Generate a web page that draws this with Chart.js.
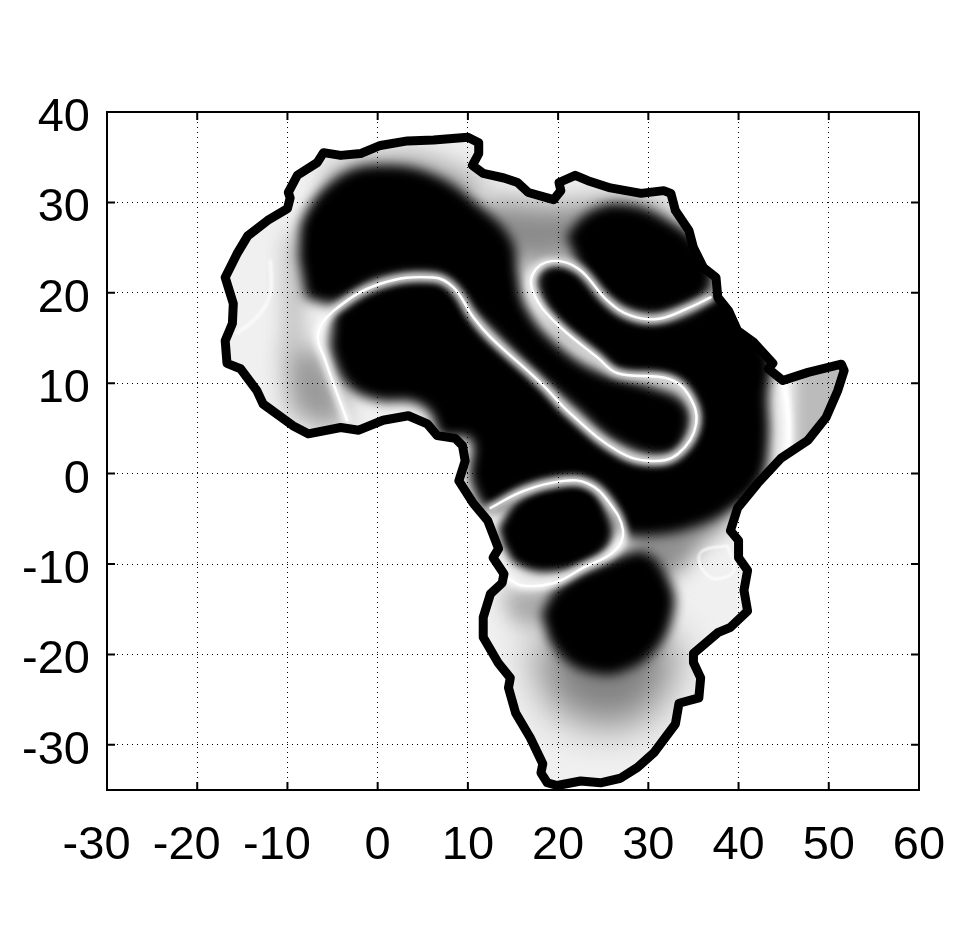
<!DOCTYPE html>
<html>
<head>
<meta charset="utf-8">
<title>Africa field map</title>
<script src="https://cdn.jsdelivr.net/npm/chart.js@4/dist/chart.umd.min.js"></script>
<style>
  html, body { margin: 0; padding: 0; background: #fff; }
  canvas { display: block; }
</style>
</head>
<body>
<canvas id="mapChart" width="957" height="952"></canvas>
<script>
// Axis ticks
const xTicks = [-30, -20, -10, 0, 10, 20, 30, 40, 50, 60];
const yTicks = [40, 30, 20, 10, 0, -10, -20, -30];

// Coastline, clockwise from the north tip [lon, lat]
const coast = [[11.2,36.6],[11.2,35.4],[10.5,34.1],[11.7,33.2],[14.0,32.7],[15.5,32.2],[16.7,31.1],[19.5,30.3],[20.3,31.3],[20.1,32.2],
  [21.9,33.0],[23.3,32.4],[25.8,31.6],[29.2,31.0],[31.7,31.3],[32.5,31.0],[33.0,29.1],[34.5,26.9],[35.0,25.0],[36.1,22.8],
  [37.5,21.7],[37.7,19.5],[38.9,18.0],[39.9,15.8],[41.7,14.5],[43.8,12.2],[43.3,11.6],[44.9,10.3],[47.7,11.2],[51.4,12.1],
  [51.7,11.4],[51.0,9.2],[49.7,6.2],[47.7,3.7],[44.7,1.7],[42.1,-1.1],[39.9,-3.8],[39.1,-6.3],[40.0,-7.4],[40.0,-9.3],
  [41.0,-10.7],[40.6,-12.9],[41.0,-15.2],[39.1,-17.0],[37.7,-17.6],[35.0,-19.9],[35.0,-20.9],[35.8,-22.6],[35.6,-24.8],[33.4,-25.4],
  [33.0,-27.7],[30.6,-30.9],[28.8,-32.5],[26.9,-33.7],[24.7,-34.2],[22.5,-34.0],[19.9,-34.5],[18.8,-34.2],[18.1,-33.1],[18.3,-32.1],
  [16.9,-29.2],[15.3,-26.5],[14.5,-23.7],[14.7,-22.6],[13.4,-21.0],[11.7,-18.1],[11.7,-15.9],[12.5,-13.3],[13.8,-12.1],[14.0,-11.1],
  [12.8,-9.3],[13.4,-8.3],[12.2,-5.2],[10.6,-3.3],[9.0,-0.8],[9.7,1.4],[9.4,3.1],[8.6,3.9],[6.6,4.2],[5.5,5.5],
  [3.4,6.4],[0.6,5.9],[-2.1,4.8],[-4.1,5.1],[-7.7,4.4],[-9.4,5.3],[-12.7,7.7],[-13.4,9.2],[-15.2,11.6],[-16.7,12.2],
  [-16.9,14.7],[-16.1,16.6],[-16.0,18.8],[-16.9,21.7],[-15.6,24.3],[-14.4,26.3],[-12.2,28.0],[-10.0,29.3],[-9.7,30.5],[-9.9,31.1],
  [-8.9,33.0],[-6.7,34.4],[-6.0,35.5],[-4.1,35.2],[-1.9,35.4],[0.3,36.3],[3.3,36.8],[6.2,36.9],[10.0,37.2],[11.2,36.6]];

// White ridges of the field
const ridgeMain = [[-3.4,5.9],[-5.8,12.5],[-6.6,15.5],[-4.9,18.0],[0.3,21.0],[6.2,21.7],[8.4,20.6],[10.6,17.3],[12.5,15.1],[18.1,10.0],
  [21.4,6.6],[26.6,2.5],[30.3,1.4],[33.3,2.2],[35.3,5.5],[34.4,8.8],[32.2,10.5],[26.6,11.1],[24.4,12.8],[19.5,16.9],
  [17.3,19.9],[17.2,22.1],[19.2,23.5],[22.2,22.7],[25.5,19.1],[28.0,17.5],[31.0,17.1],[34.4,18.3],[36.9,19.5]];
const ridgeSouth = [[12.5,-3.8],[16.2,-1.9],[20.6,-0.8],[23.3,-1.1],[25.5,-3.0],[27.2,-6.3],[26.2,-8.6],[22.8,-10.4],[19.5,-12.1],[16.2,-12.4],[14.4,-11.6]];
const ridgeHorn = [[45.0,10.5],[45.5,6.2],[45.5,2.3]];
const ridgeWest = [[-11.9,23.6],[-11.9,19.9],[-13.4,17.3],[-15.6,15.5]];
const ridgeLoop = [[38.8,-8.0],[36.1,-8.5],[35.6,-9.6],[36.6,-11.3],[38.0,-11.6],[39.5,-10.7],[38.8,-8.0]];

// Black blobs
const blobNorth = [[-8.8,24.1],[-8.2,28.5],[-4.1,33.0],[0.8,34.1],[6.4,33.0],[11.4,29.6],[14.9,25.8],[15.6,21.9],[16.4,18.6],[19.5,14.7],
  [24.4,11.4],[30.3,9.7],[33.9,8.1],[34.7,5.3],[32.5,2.0],[26.9,3.1],[21.4,7.5],[16.4,11.9],[12.5,15.8],[10.3,18.0],
  [8.1,20.8],[5.8,21.9],[0.3,21.3],[-4.7,18.8],[-8.0,19.4]];
const blobCentral = [[-5.2,15.3],[-5.2,13.6],[-3.3,9.7],[0.1,8.1],[3.9,7.9],[5.8,6.7],[7.0,4.2],[10.3,3.7],[10.3,-0.8],[12.5,-4.1],
  [16.2,-1.9],[20.6,-0.8],[23.3,-1.1],[25.5,-3.0],[27.2,-6.5],[30.3,-6.9],[34.7,-6.1],[39.1,-4.1],[42.5,-0.8],[43.4,3.7],
  [43.3,8.6],[43.6,13.0],[41.0,17.0],[38.6,20.2],[34.4,18.0],[31.0,17.1],[28.0,17.5],[25.5,19.1],[22.2,22.7],[19.2,23.3],[17.5,21.3],
  [19.5,16.9],[24.4,12.8],[26.6,11.1],[32.2,10.5],[34.4,8.8],[35.3,5.5],[33.3,2.2],[30.3,1.4],[26.6,2.5],[21.4,6.6],
  [18.1,10.0],[12.5,15.1],[10.6,17.3],[8.4,20.6],[6.2,21.7],[0.3,21.0],[-4.9,18.0]];
const blobNorthEast = [[20.9,26.3],[23.4,28.9],[26.9,29.8],[31.4,28.5],[36.0,25.0],[37.0,20.6],[32.7,17.8],[29.2,17.5],[25.5,19.1],[22.2,23.0]];
const blobCongo = [[13.4,-6.0],[15.6,-2.9],[19.9,-1.3],[23.5,-1.5],[25.5,-4.4],[25.9,-7.3],[23.5,-9.7],[18.8,-10.9],[15.4,-10.0],[13.9,-7.9]];
const blobZambia = [[18.1,-15.5],[20.1,-12.4],[25.5,-9.6],[29.7,-8.7],[32.5,-12.2],[32.8,-15.4],[30.8,-19.6],[26.9,-22.0],[23.6,-22.0],[20.8,-20.7],[19.0,-18.5]];

// Soft gray patches
const hazeSahara = [[12.5,30.2],[20.3,29.6],[28.9,30.2],[33.3,27.4],[28.9,26.9],[20.3,23.5],[14.8,23.5],[10.3,28.5]];
const hazeMaghreb = [[-6.0,33.5],[0.0,35.3],[6.0,35.0],[12.0,31.5],[5.0,30.0],[-5.0,30.0]];
const hazeGuinea = [[-10.3,13.6],[-6.4,13.6],[-3.6,5.9],[-6.4,5.3],[-9.7,7.0]];
const hazeAtlas = [[-10.3,25.8],[-8.6,26.9],[-8.6,13.6],[-10.3,13.6]];
const hazeKalahari = [[16.9,-18.5],[32.5,-18.5],[30.3,-26.2],[24.7,-27.9],[19.2,-25.7]];
const hazeRift = [[26.9,-6.3],[39.7,-4.3],[35.8,-8.0],[32.7,-11.3],[29.2,-10.2]];
const hazeAngola = [[13.6,-12.9],[20.3,-12.9],[18.1,-16.8],[14.8,-16.3]];
const hazeHorn = [[46.3,11.4],[52.4,12.5],[50.2,4.8],[46.3,1.4]];

function toPoints(list) {
    return list.map(function (p) { return { x: p[0], y: p[1] }; });
}

function patch(list, color, blur) {
    return { data: toPoints(list), showLine: true, pointRadius: 0, borderWidth: 0, tension: 0.4,
        fieldLayer: true, layerFill: color, layerBlur: blur };
}

function ridge(list, width, blur) {
    return { data: toPoints(list), showLine: true, pointRadius: 0, borderColor: '#fff', borderWidth: width,
        tension: 0.4, borderCapStyle: 'round', borderJoinStyle: 'round', fieldLayer: true, layerBlur: blur };
}

// Chart.js paints the first dataset last, so the list runs from top to bottom
const datasets = [
    { data: toPoints(coast), showLine: true, pointRadius: 0, borderColor: '#000', borderWidth: 9,
      tension: 0, borderCapStyle: 'round', borderJoinStyle: 'round' },
    ridge(ridgeMain, 2.4, 0.6), ridge(ridgeSouth, 2.4, 0.6), ridge(ridgeHorn, 2.5, 0.8),
    ridge(ridgeMain, 7, 3.5), ridge(ridgeSouth, 7, 3.5), ridge(ridgeHorn, 7, 2.5),
    ridge(ridgeWest, 2.5, 1.5), ridge(ridgeLoop, 2, 1),
    patch(blobNorth, '#000', 6), patch(blobCentral, '#000', 6), patch(blobNorthEast, '#000', 6),
    patch(blobCongo, '#000', 4), patch(blobZambia, '#000', 6),
    patch(hazeSahara, '#8a8a8a', 14), patch(hazeMaghreb, '#aaa', 12), patch(hazeGuinea, '#999', 12), patch(hazeAtlas, '#bbb', 10),
    patch(hazeKalahari, '#808080', 20), patch(hazeRift, '#909090', 10), patch(hazeAngola, '#aaa', 10),
    patch(hazeHorn, '#bbb', 6),
    patch(coast, '#f0f0f0', 0)
];
datasets[datasets.length - 1].tension = 0;

// Clip field layers to the coast and blur them
const fieldLayers = {
    id: 'fieldLayers',
    beforeDatasetDraw(chart, args) {
        const ds = chart.data.datasets[args.index];
        if (!ds.fieldLayer) return;
        const ctx = chart.ctx;
        ctx.save();
        ctx.beginPath();
        chart.getDatasetMeta(0).dataset.path(ctx);
        ctx.closePath();
        ctx.clip();
        if (ds.layerBlur) ctx.filter = 'blur(' + ds.layerBlur + 'px)';
        if (ds.layerFill) {
            ctx.fillStyle = ds.layerFill;
            ctx.beginPath();
            args.meta.dataset.path(ctx);
            ctx.closePath();
            ctx.fill();
            ctx.restore();
            return false;
        }
    },
    afterDatasetDraw(chart, args) {
        if (chart.data.datasets[args.index].fieldLayer) chart.ctx.restore();
    }
};

// Box round the plot with short inward ticks on all four sides
const plotFrame = {
    id: 'plotFrame',
    afterDraw(chart) {
        const ctx = chart.ctx;
        const a = chart.chartArea;
        ctx.save();
        ctx.strokeStyle = '#000';
        ctx.lineWidth = 2;
        ctx.strokeRect(a.left, a.top, a.right - a.left, a.bottom - a.top);
        ctx.beginPath();
        xTicks.forEach(function (v) {
            const px = chart.scales.x.getPixelForValue(v);
            ctx.moveTo(px, a.top); ctx.lineTo(px, a.top + 8);
            ctx.moveTo(px, a.bottom); ctx.lineTo(px, a.bottom - 8);
        });
        yTicks.forEach(function (v) {
            const py = chart.scales.y.getPixelForValue(v);
            ctx.moveTo(a.left, py); ctx.lineTo(a.left + 8, py);
            ctx.moveTo(a.right, py); ctx.lineTo(a.right - 8, py);
        });
        ctx.stroke();
        ctx.restore();
    }
};

function axisOptions(min, max, values, size, tickOpts) {
    return {
        type: 'linear',
        min: min,
        max: max,
        afterBuildTicks: function (scale) { scale.ticks = values.map(function (v) { return { value: v }; }); },
        grid: { color: '#000', lineWidth: 1, z: 1, drawTicks: false },
        border: { display: false, dash: [1, 4] },
        ticks: Object.assign({ color: '#000', autoSkip: false, maxRotation: 0,
            font: { family: '"Liberation Sans", Arial, sans-serif', size: 47 } }, tickOpts),
        afterFit: size
    };
}

new Chart(document.getElementById('mapChart'), {
    type: 'scatter',
    data: { datasets: datasets },
    plugins: [fieldLayers, plotFrame],
    options: {
        responsive: false,
        animation: false,
        layout: { padding: { top: 112, right: 38, left: 0, bottom: 0 } },
        plugins: { legend: { display: false }, tooltip: { enabled: false } },
        scales: {
            x: axisOptions(-30, 60, xTicks, function (s) {
                s.height = 162; s.paddingLeft = 0; s.paddingRight = 0;
            }, {
                padding: 28,
                // negative labels sit a little left of their tick
                callback: function (v) { return v < 0 ? v + ' \u2006' : String(v); }
            }),
            y: axisOptions(-35, 40, yTicks, function (s) {
                s.width = 107; s.paddingTop = 0; s.paddingBottom = 0;
            }, { padding: 17, labelOffset: 6 })
        }
    }
});
</script>
</body>
</html>
